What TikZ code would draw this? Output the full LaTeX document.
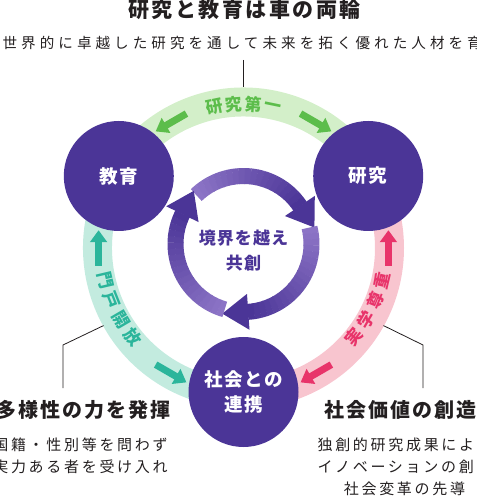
\documentclass[tikz,border=0pt]{standalone}
\usepackage{fontspec}
\setmainfont{Noto Sans CJK JP}
\usetikzlibrary{arrows.meta}

\definecolor{ringpurple}{HTML}{4B3597}
\definecolor{innerlight}{HTML}{8C74C6}
\definecolor{greenband}{HTML}{D3EFC9}
\definecolor{greenmark}{HTML}{5CBD4B}
\definecolor{tealband}{HTML}{C3EBDF}
\definecolor{tealmark}{HTML}{2BB59B}
\definecolor{pinkband}{HTML}{F8C5CF}
\definecolor{pinkmark}{HTML}{E8346A}
\definecolor{inkgray}{HTML}{231F20}

\newcommand\titlefont{\fontsize{15.75}{18}\selectfont\bfseries\addfontfeature{LetterSpace=12}}
\newcommand\mottofont{\fontsize{10.9}{13}\selectfont\addfontfeature{LetterSpace=28}}
\newcommand\hubfont{\fontsize{13.9}{18.75}\selectfont\bfseries\addfontfeature{LetterSpace=8}}
\newcommand\cocreatefont{\fontsize{12.75}{18.75}\selectfont\bfseries\addfontfeature{LetterSpace=6}}
\newcommand\bandfont{\fontsize{12.75}{14}\selectfont\bfseries}
\newcommand\headfont{\fontsize{15}{18}\selectfont\bfseries\addfontfeature{LetterSpace=10}}
\newcommand\bodyfont{\fontsize{11.25}{16.5}\selectfont\addfontfeature{LetterSpace=18}}

\begin{document}
\begin{tikzpicture}[x=0.75pt, y=0.75pt,
  band/.style={line width=21.75pt},
  bandarrow/.style={line width=5.25pt, -{Triangle[length=9pt, width=12.5pt]}},
  bandchar/.style={font=\bandfont, inner sep=0pt},
  hub/.style={circle, fill=ringpurple, text=white, minimum size=82.5pt, inner sep=0pt, align=center, font=\hubfont},
  heading/.style={font=\headfont, text=inkgray},
  bodytext/.style={font=\bodyfont, text=inkgray, align=center},
  leader/.style={draw=inkgray, line width=0.6pt}]
\useasboundingbox (-243.5,-251) rectangle (232.5,248);
\clip (-243.5,-251) rectangle (232.5,248);

\draw[band, greenband] (30:146) arc[start angle=30, end angle=150, radius=146];
\draw[band, tealband] (150:146) arc[start angle=150, end angle=270, radius=146];
\draw[band, pinkband] (270:146) arc[start angle=270, end angle=390, radius=146];

\draw[bandarrow, greenmark] (113:146) -- (127:146);
\draw[bandarrow, greenmark] (67:146) -- (53:146);
\draw[bandarrow, tealmark] (187:146) -- (173:146);
\draw[bandarrow, tealmark] (233:146) -- (247:146);
\draw[bandarrow, pinkmark] (-7:146) -- (7:146);
\draw[bandarrow, pinkmark] (-53:146) -- (-67:146);

\foreach \ch [count=\i] in {研,究,第,一}
  \node[bandchar, text=greenmark, rotate={11.7-7.8*(\i-1)}] (g\i) at ({101.7-7.8*(\i-1)}:144) {\ch};
\foreach \ch [count=\i] in {門,戸,開,放}
  \node[bandchar, text=tealmark, rotate={283.25+8.5*(\i-1)}] (t\i) at ({193.25+8.5*(\i-1)}:142) {\ch};
\foreach \ch [count=\i] in {実,学,尊,重}
  \node[bandchar, text=pinkmark, rotate={51.25+8.5*(\i-1)}] (p\i) at ({-38.75+8.5*(\i-1)}:142) {\ch};

\node[font=\titlefont, text=inkgray] (ryorin) at (1,238) {研究と教育は車の両輪};
\node[font=\mottofont, text=inkgray] (motto) at (8,205) {世界的に卓越した研究を通して未来を拓く優れた人材を育成};

\coordinate (mottofoot) at (0,188);
\coordinate (greentop) at (90:160.5);
\draw[leader] (mottofoot) -- (greentop);
\coordinate (tealedge) at (209:160);
\coordinate (leftbend) at (-180.5,-97);
\coordinate (leftfoot) at (-180.5,-140);
\draw[leader] (tealedge) -- (leftbend) -- (leftfoot);
\coordinate (pinkedge) at (-29:160);
\coordinate (rightbend) at (179.5,-97);
\coordinate (rightfoot) at (179.5,-140);
\draw[leader] (pinkedge) -- (rightbend) -- (rightfoot);

\node[hub] (kyoiku) at (150:144) {教育};
\node[hub] (kenkyu) at (30:144) {研究};
\node[hub] (shakai) at (270:144) {社会との\\連携};

\foreach \s in {134,14,-106} {
  \foreach \j in {0,...,19} {
    \pgfmathsetmacro\aa{\s-5*\j}
    \pgfmathsetmacro\ab{\s-5*\j-5.4}
    \pgfmathtruncatemacro\p{100*\j/19}
    \draw[line width=12pt, ringpurple!\p!innerlight] ([shift={(0,4)}]\aa:68) arc[start angle=\aa, end angle=\ab, radius=68];
  }
  \fill[ringpurple, shift={(0,4)}, rotate=\s-100] (50,0) -- (86,0) -- (68,-26) -- cycle;
}
\node[font=\cocreatefont, text=ringpurple, align=center] (kyoso) at (0,-2.5) {境界を越え\\共創};

\node[heading] (tayosei) at (-160,-162) {多様性の力を発揮};
\node[heading] (kachi) at (157,-162) {社会価値の創造};
\node[bodytext] (ukeire) at (-163,-208) {国籍・性別等を問わず\\実力ある者を受け入れ};
\node[bodytext] (sendo) at (161,-218.5) {独創的研究成果による\\イノベーションの創出\\社会変革の先導};
\end{tikzpicture}
\end{document}
